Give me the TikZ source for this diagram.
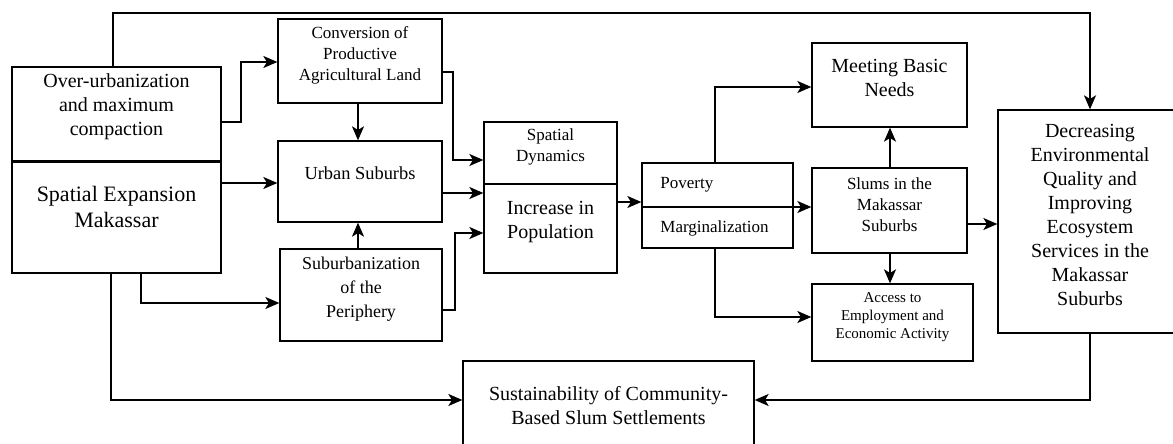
\documentclass[tikz,border=0pt]{standalone}
\usepackage{fontspec}
\setmainfont{Liberation Serif}
\usetikzlibrary{arrows.meta,fit}
\tikzset{
  box/.style={draw, line width=0.65pt, inner sep=0pt, align=center},
  arr/.style={-{Stealth[length=7pt,width=6pt,inset=1.8pt]}, line width=0.9pt},
  ftA/.style={font=\fontsize{10}{12}\selectfont},
  ftB/.style={font=\fontsize{11}{13}\selectfont},
  ftC/.style={font=\fontsize{8.5}{10.5}\selectfont},
  ftD/.style={font=\fontsize{9}{12}\selectfont},
  ftE/.style={font=\fontsize{7.5}{9}\selectfont},
}
\begin{document}
\begin{tikzpicture}[x=0.5pt,y=-0.5pt]
\useasboundingbox (0,0) rectangle (1173,444);
\clip (0,0) rectangle (1173,444);
\fill[white] (0,0) rectangle (1173,444);

% left box
\node[box, ftA, fit={(12,67)(221,161)}] (Lt) {Over-urbanization\\and maximum\\compaction};
\node[box, fit={(12,161)(221,273)}, label={[ftB, align=center, yshift=5pt]center:Spatial Expansion\\Makassar}] (Lb) {};
\draw[line width=1.2pt] (Lt.south west) -- (Lt.south east);

% column 2
\node[box, ftC, fit={(278,19)(442,103)}] (Conv) {Conversion of\\Productive\\Agricultural Land};
\node[box, fit={(278,141)(442,222)}, label={[font=\fontsize{9.2}{11}\selectfont, yshift=4.25pt]center:Urban Suburbs}] (Urban) {};
\node[box, ftD, fit={(280,249)(442,341)}] (Suburb) {Suburbanization\\of the\\Periphery};

% spatial
\node[box, ftC, fit={(484,122)(617,184)}] (Spatial) {Spatial\\Dynamics};
\node[box, ftA, fit={(484,184)(617,273)}] (Increase) {Increase in\\Population};

% poverty
\node[box, fit={(642,163)(793,207)}] (Pov) {};
\node[box, fit={(642,207)(793,248)}] (Marg) {};
\node[ftC, anchor=west, inner sep=0pt] (povt) at (660,185) {Poverty};
\node[ftC, anchor=west, inner sep=0pt] (margt) at (660,228) {Marginalization};

% right column
\node[box, ftA, fit={(812,43)(967,127)}] (Meet) {Meeting Basic\\Needs};
\node[box, ftC, fit={(812,168)(967,253)}] (Slums) {Slums in the\\Makassar\\Suburbs};
\node[box, ftE, fit={(812,284)(973,361)}] (Access) {Access to\\Employment and\\Economic Activity};
\node[box, ftA, fit={(998,110)(1182,333)}] (R) {Decreasing\\Environmental\\Quality and\\Improving\\Ecosystem\\Services in the\\Makassar\\Suburbs};
\node[box, fit={(463,361)(754,462)}, label={[ftA, align=center, yshift=3pt]center:Sustainability of Community-\\Based Slum Settlements}] (Sust) {};

% coordinates
\coordinate (top1) at (113,13);
\coordinate (top2) at (1090,13);
\coordinate (b1) at (241,122);
\coordinate (b2) at (241,62);
\coordinate (h1) at (0,183);
\coordinate (c1) at (141,303);
\coordinate (c2) at (111,400);
\coordinate (v1) at (358,0);
\coordinate (d1) at (453,72);
\coordinate (d2) at (453,160);
\coordinate (h2) at (0,193);
\coordinate (e1) at (455,310);
\coordinate (e2) at (455,233);
\coordinate (h3) at (0,202);
\coordinate (f1) at (715,87);
\coordinate (h4) at (0,207);
\coordinate (f2) at (715,317);
\coordinate (v2) at (890,0);
\coordinate (h5) at (0,224);
\coordinate (g1) at (1090,400);

% connectors
\draw[arr] (Lt.north -| top1) -- (top1) -- (top2) -- (R.north -| top2);
\draw[arr] (Lt.east |- b1) -- (b1) -- (b2) -- (Conv.west |- b2);
\draw[arr] (Lb.east |- h1) -- (Urban.west |- h1);
\draw[arr] (Lb.south -| c1) -- (c1) -- (Suburb.west |- c1);
\draw[arr] (Lb.south -| c2) -- (c2) -- (Sust.west |- c2);
\draw[arr] (Conv.south -| v1) -- (Urban.north -| v1);
\draw[arr] (Suburb.north -| v1) -- (Urban.south -| v1);
\draw[arr] (Conv.east |- d1) -- (d1) -- (d2) -- (Spatial.west |- d2);
\draw[arr] (Urban.east |- h2) -- (Increase.west |- h2);
\draw[arr] (Suburb.east |- e1) -- (e1) -- (e2) -- (Increase.west |- e2);
\draw[arr] (Increase.east |- h3) -- (Pov.west |- h3);
\draw[arr] (Pov.north -| f1) -- (f1) -- (Meet.west |- f1);
\draw[arr] (Pov.east |- h4) -- (Slums.west |- h4);
\draw[arr] (Marg.south -| f2) -- (f2) -- (Access.west |- f2);
\draw[arr] (Slums.north -| v2) -- (Meet.south -| v2);
\draw[arr] (Slums.south -| v2) -- (Access.north -| v2);
\draw[arr] (Slums.east |- h5) -- (R.west |- h5);
\draw[arr] (R.south -| g1) -- (g1) -- (Sust.east |- g1);
\end{tikzpicture}
\end{document}
